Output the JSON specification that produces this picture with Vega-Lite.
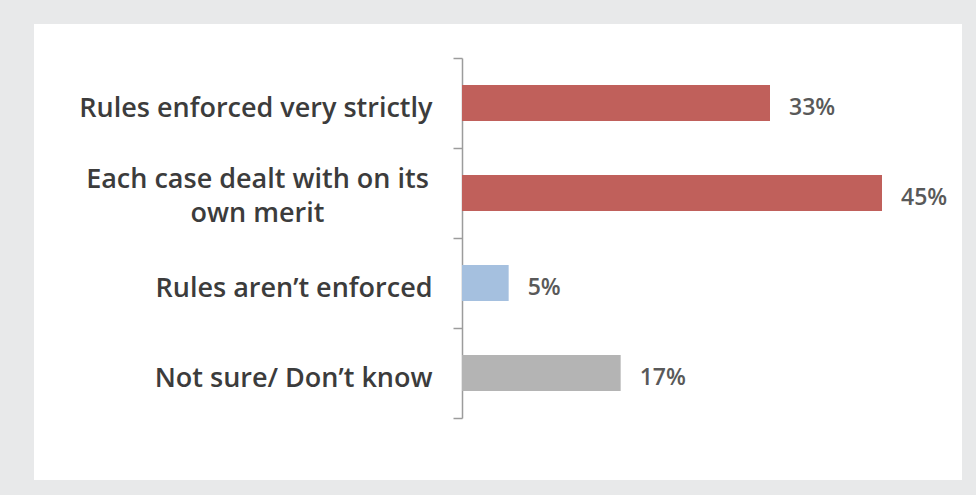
{
  "$schema": "https://vega.github.io/schema/vega-lite/v6.json",
  "width": 928,
  "height": 456,
  "autosize": {"type": "none"},
  "padding": {"left": 34, "top": 24, "right": 14, "bottom": 15},
  "background": "#e8e9ea",
  "view": {"fill": "#ffffff", "stroke": null},
  "data": {
    "values": [
      {"category": "Rules enforced very strictly", "pct": 0.33, "group": "strict"},
      {"category": "Each case dealt with on its own merit", "pct": 0.45, "group": "strict"},
      {"category": "Rules aren’t enforced", "pct": 0.05, "group": "none"},
      {"category": "Not sure/ Don’t know", "pct": 0.17, "group": "unsure"}
    ]
  },
  "encoding": {
    "y": {
      "field": "category",
      "type": "nominal",
      "sort": null,
      "scale": {"range": [34, 394], "paddingInner": 0, "paddingOuter": 0},
      "axis": {
        "title": null,
        "offset": -428,
        "tickBand": "extent",
        "domainColor": "#9c9c9c",
        "domainWidth": 1.5,
        "tickColor": "#9c9c9c",
        "tickWidth": 1.5,
        "tickSize": 9,
        "labelPadding": {"condition": {"test": "datum.value == 'Each case dealt with on its own merit'", "value": 196}, "value": 21},
        "labelAlign": {"condition": {"test": "datum.value == 'Each case dealt with on its own merit'", "value": "center"}, "value": "right"},
        "labelOffset": {"condition": {"test": "datum.value == 'Each case dealt with on its own merit'", "value": -14}, "value": 5},
        "labelFont": "Open Sans",
        "labelFontWeight": 600,
        "labelFontSize": 27,
        "labelColor": "#3c3c3c",
        "labelLineHeight": 34,
        "labelLimit": 600,
        "labelExpr": "datum.value == 'Each case dealt with on its own merit' ? ['Each case dealt with on its', 'own merit'] : datum.value"
      }
    },
    "x": {
      "field": "pct",
      "type": "quantitative",
      "scale": {"domain": [0, 0.45], "range": [428, 848], "nice": false, "zero": true},
      "axis": null
    }
  },
  "layer": [
    {
      "mark": {"type": "bar", "height": {"band": 0.4}},
      "encoding": {
        "color": {
          "field": "group",
          "type": "nominal",
          "scale": {"domain": ["strict", "none", "unsure"], "range": ["#c0605b", "#a5c0df", "#b4b4b4"]},
          "legend": null
        }
      }
    },
    {
      "mark": {"type": "text", "align": "left", "baseline": "middle", "dx": 19, "dy": 5, "font": "Open Sans", "fontWeight": 600, "fontSize": 23, "color": "#595959"},
      "encoding": {
        "text": {"field": "pct", "type": "quantitative", "format": ".0%"}
      }
    }
  ]
}
